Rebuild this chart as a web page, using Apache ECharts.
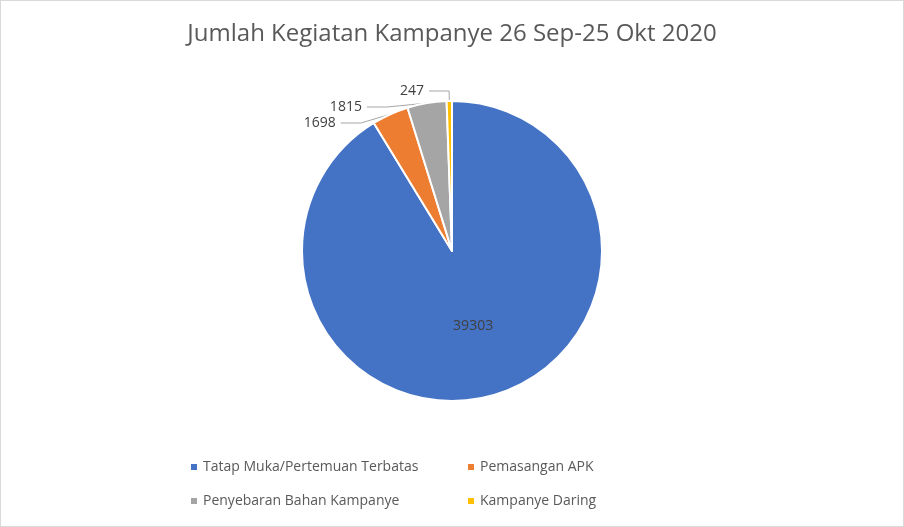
<!DOCTYPE html>
<html><head><meta charset="utf-8">
<script src="https://cdn.jsdelivr.net/npm/echarts@6/dist/echarts.min.js"></script>
<style>html,body{margin:0;padding:0;background:#fff}#c{width:902px;height:525px;border:1px solid #d9d9d9}</style>
</head><body><div id="c"></div>
<script>
const categories = ["Tatap Muka/Pertemuan Terbatas","Pemasangan APK","Penyebaran Bahan Kampanye","Kampanye Daring"];
const values = [39303,1698,1815,247];
const colors = ["#4472c4","#ed7d31","#a5a5a5","#ffc000"];
const font = "'Open Sans', 'Liberation Sans', sans-serif";
const chart = echarts.init(document.getElementById('c'));
const data = categories.map((n,i)=>({name:n,value:values[i],itemStyle:{color:colors[i]},
  label: i===0 ? {position:'inside', color:'#404040'} : {}, labelLine: i===0?{show:false}:{} }));
chart.setOption({
  animation:false,
  title:{text:"Jumlah Kegiatan Kampanye 26 Sep-25 Okt 2020",left:'center',top:16,
    textStyle:{fontFamily:font,fontSize:24,fontWeight:'normal',color:'#595959'}},
  legend:[
    {data:[categories[0],categories[2]],orient:'vertical',left:183,top:454,itemGap:20,itemWidth:8,itemHeight:8,icon:'rect',
     textStyle:{fontFamily:font,fontSize:14,color:'#595959'}},
    {data:[categories[1],categories[3]],orient:'vertical',left:460,top:454,itemGap:20,itemWidth:8,itemHeight:8,icon:'rect',
     textStyle:{fontFamily:font,fontSize:14,color:'#595959'}}
  ],
  series:[{type:'pie',center:[451,250],radius:[0,150],startAngle:90,clockwise:true,
    itemStyle:{borderColor:'#fff',borderWidth:2},
    label:{formatter:'{c}',fontFamily:font,fontSize:14,color:'#404040'},
    labelLine:{length:10,length2:20,lineStyle:{color:'#a6a6a6'}},
    data}]
});
</script></body></html>
